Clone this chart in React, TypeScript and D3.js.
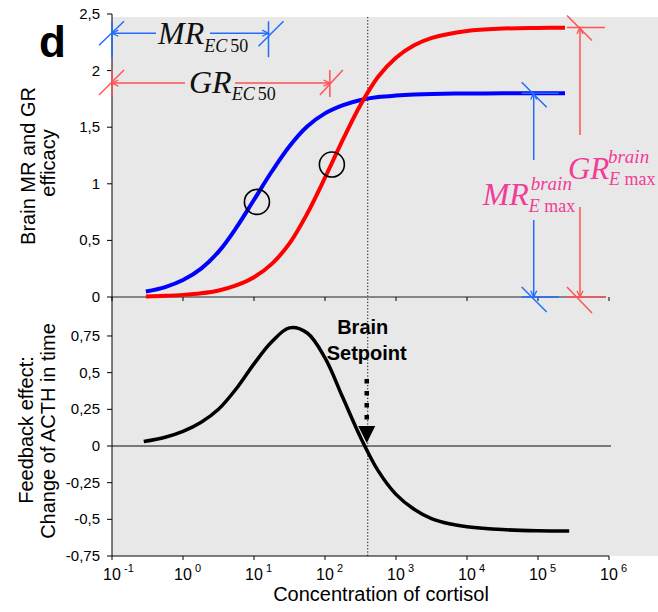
import React from 'react';
import * as d3 from 'd3';

// ---------- data ----------
const concentrations = [0.3, 0.56, 1, 1.8, 3.2, 5.6, 10, 18, 32, 56, 100, 180, 320, 560, 1000, 1800, 3200, 10000, 32000, 100000, 240000];
const mrEfficacy = [0.048, 0.088, 0.15, 0.251, 0.403, 0.61, 0.859, 1.113, 1.336, 1.506, 1.622, 1.695, 1.74, 1.766, 1.78, 1.789, 1.794, 1.798, 1.799, 1.8, 1.8];
const grEfficacy = [0.0054, 0.0106, 0.0188, 0.0331, 0.058, 0.102, 0.175, 0.295, 0.478, 0.735, 1.054, 1.394, 1.702, 1.945, 2.114, 2.223, 2.289, 2.35, 2.371, 2.377, 2.379];

const feedbackConc = [0.28, 0.56, 1, 1.78, 3.16, 5.62, 10, 17.8, 31.6, 56.2, 100, 178, 316, 562, 1000, 1780, 3160, 5620, 10000, 31600, 100000, 275000];
const feedbackEffect = [0.03, 0.06, 0.1, 0.16, 0.25, 0.39, 0.56, 0.71, 0.805, 0.77, 0.6, 0.33, 0.06, -0.17, -0.33, -0.43, -0.495, -0.53, -0.55, -0.57, -0.578, -0.58];

const xTickExponents = [-1, 0, 1, 2, 3, 4, 5, 6];
const topYTicks = [0, 0.5, 1, 1.5, 2, 2.5];
const bottomYTicks = [-0.75, -0.5, -0.25, 0, 0.25, 0.5, 0.75];

// annotation values (data units)
const mrEc50 = 16;
const grEc50 = 117;
const mrEc50Circle = { conc: 11, value: 0.84 };
const grEc50Circle = { conc: 125, value: 1.17 };
const mrEmax = 1.8;
const grEmax = 2.38;
const mrEmaxConc = 87000;
const grEmaxConc = 390000;
const brainSetpoint = 400;

const W = 658;
const H = 612;
const SANS = 'Liberation Sans, Arial, Helvetica, sans-serif';
const SERIF = 'Liberation Serif, Times New Roman, serif';
const BLUE_A = '#1f6dff';
const RED_A = '#ff5252';
const PINK = '#f23c98';

const fmt = (v: number) => String(v).replace('.', ',');

function Arrow({ x, y, dx, dy, color }: { x: number; y: number; dx: number; dy: number; color: string }) {
  const len = 7;
  const a = Math.atan2(dy, dx);
  const p1 = [x - len * Math.cos(a - 0.45), y - len * Math.sin(a - 0.45)];
  const p2 = [x - len * Math.cos(a + 0.45), y - len * Math.sin(a + 0.45)];
  return (
    <path d={`M${p1[0]},${p1[1]}L${x},${y}L${p2[0]},${p2[1]}`} fill="none" stroke={color} strokeWidth={1.3} />
  );
}

export default function App() {
  const x = d3.scaleLog().domain([0.1, 1e6]).range([112, 609]);
  const yTop = d3.scaleLinear().domain([0, 2.5]).range([297, 14]);
  const yBot = d3.scaleLinear().domain([-0.75, 1]).range([556, 299.3]);

  const lineTop = d3
    .line<[number, number]>()
    .x((d) => x(d[0]))
    .y((d) => yTop(d[1]))
    .curve(d3.curveCatmullRom.alpha(0.5));
  const lineBot = d3
    .line<[number, number]>()
    .x((d) => x(d[0]))
    .y((d) => yBot(d[1]))
    .curve(d3.curveCatmullRom.alpha(0.5));

  const mrPath = lineTop(concentrations.map((c, i) => [c, mrEfficacy[i]]));
  const grPath = lineTop(concentrations.map((c, i) => [c, grEfficacy[i]]));
  const fbPath = lineBot(feedbackConc.map((c, i) => [c, feedbackEffect[i]]));

  const axisX = x(0.1);
  const xEnd = x(1e6);
  const sp = x(brainSetpoint);

  const mrBY = yTop(2.33);
  const grBY = yTop(1.89);
  const mrBX = x(mrEc50);
  const grBX = x(grEc50);

  const mrVX = x(mrEmaxConc);
  const grVX = x(grEmaxConc);
  const mrTopY = yTop(mrEmax);
  const grTopY = yTop(grEmax);
  const baseY = yTop(0);

  return (
    <svg width={W} height={H} style={{ position: 'absolute', left: 0, top: 0, background: '#fff' }}>
      <rect x={axisX} y={17} width={W - axisX} height={556 - 17} fill="#e8e8e8" />

      <line x1={sp} x2={sp} y1={17} y2={556} stroke="#000" strokeWidth={1} strokeDasharray="1.2,2" />

      <line x1={axisX} x2={xEnd - 3} y1={baseY} y2={baseY} stroke="#666" strokeWidth={1.5} />
      {xTickExponents.map((e) => (
        <line key={'tt' + e} x1={x(10 ** e)} x2={x(10 ** e)} y1={baseY} y2={baseY + 4} stroke="#000" strokeWidth={1} />
      ))}

      <line x1={axisX} x2={611} y1={yBot(0)} y2={yBot(0)} stroke="#555" strokeWidth={1.3} />

      <line x1={axisX} x2={axisX} y1={yTop(2.5)} y2={556} stroke="#000" strokeWidth={1} />
      {topYTicks.map((t) => (
        <g key={'ty' + t}>
          <line x1={axisX - 5} x2={axisX} y1={yTop(t)} y2={yTop(t)} stroke="#000" />
          <text x={axisX - 12} y={yTop(t) + 5} textAnchor="end" fontFamily={SANS} fontSize={15} fill="#000">
            {fmt(t)}
          </text>
        </g>
      ))}
      {bottomYTicks.map((t) => (
        <g key={'by' + t}>
          <line x1={axisX - 5} x2={axisX} y1={yBot(t)} y2={yBot(t)} stroke="#000" />
          <text x={axisX - 12} y={yBot(t) + 5} textAnchor="end" fontFamily={SANS} fontSize={15} fill="#000">
            {fmt(t)}
          </text>
        </g>
      ))}

      <line x1={axisX} x2={xEnd} y1={556} y2={556} stroke="#000" strokeWidth={1} />
      {xTickExponents.map((e) => (
        <g key={'bx' + e}>
          <line x1={x(10 ** e)} x2={x(10 ** e)} y1={556} y2={560} stroke="#000" />
          <text x={x(10 ** e)} y={580} textAnchor="middle" fontFamily={SANS} fontSize={16} fill="#000">
            10
          </text>
          <text x={x(10 ** e) + 12} y={572} fontFamily={SANS} fontSize={11} fill="#000">
            {e}
          </text>
        </g>
      ))}
      <text x={381} y={601} textAnchor="middle" fontFamily={SANS} fontSize={20} fill="#000">
        Concentration of cortisol
      </text>

      <text transform="translate(35,166) rotate(-90)" textAnchor="middle" fontFamily={SANS} fontSize={20} fill="#000">
        Brain MR and GR
      </text>
      <text transform="translate(55,163) rotate(-90)" textAnchor="middle" fontFamily={SANS} fontSize={20} fill="#000">
        efficacy
      </text>
      <text transform="translate(33,430) rotate(-90)" textAnchor="middle" fontFamily={SANS} fontSize={20} fill="#000">
        Feedback effect:
      </text>
      <text transform="translate(55,431) rotate(-90)" textAnchor="middle" fontFamily={SANS} fontSize={20} fill="#000">
        Change of ACTH in time
      </text>

      <text x={39} y={57} fontFamily={SANS} fontWeight="bold" fontSize={44} fill="#000">
        d
      </text>

      <path d={mrPath || ''} fill="none" stroke="#0000ff" strokeWidth={4} />
      <path d={grPath || ''} fill="none" stroke="#ff0000" strokeWidth={4} />
      <path d={fbPath || ''} fill="none" stroke="#000" strokeWidth={3.5} />

      <circle cx={x(mrEc50Circle.conc)} cy={yTop(mrEc50Circle.value)} r={12.5} fill="none" stroke="#000" strokeWidth={1.6} />
      <circle cx={x(grEc50Circle.conc)} cy={yTop(grEc50Circle.value)} r={12.5} fill="none" stroke="#000" strokeWidth={1.6} />

      <g stroke={BLUE_A} strokeWidth={1.5} fill="none">
        <line x1={axisX} x2={156} y1={mrBY} y2={mrBY} />
        <line x1={210} x2={mrBX} y1={mrBY} y2={mrBY} />
        <line x1={axisX} x2={axisX} y1={mrBY - 12} y2={mrBY + 24} />
        <line x1={axisX - 13} x2={axisX + 12} y1={mrBY + 12} y2={mrBY - 12} />
        <line x1={mrBX} x2={mrBX} y1={mrBY - 12} y2={mrBY + 24} />
        <line x1={mrBX - 10} x2={mrBX + 15} y1={mrBY + 13} y2={mrBY - 12} />
      </g>
      <Arrow x={axisX} y={mrBY} dx={-1} dy={0} color={BLUE_A} />
      <Arrow x={mrBX} y={mrBY} dx={1} dy={0} color={BLUE_A} />
      <text x={158} y={44} fontFamily={SERIF} fontStyle="italic" fontSize={32} fill="#111">
        MR
        <tspan fontSize={18} dy={8}>EC</tspan>
        <tspan fontSize={18} fontStyle="normal" dx={3}>50</tspan>
      </text>

      <g stroke={RED_A} strokeWidth={1.5} fill="none">
        <line x1={axisX} x2={185} y1={grBY} y2={grBY} />
        <line x1={235} x2={grBX} y1={grBY} y2={grBY} />
        <line x1={axisX} x2={axisX} y1={grBY - 13} y2={grBY + 14} />
        <line x1={axisX - 13} x2={axisX + 12} y1={grBY + 12} y2={grBY - 13} />
        <line x1={grBX} x2={grBX} y1={grBY - 13} y2={grBY + 14} />
        <line x1={grBX - 10} x2={grBX + 13} y1={grBY + 12} y2={grBY - 13} />
      </g>
      <Arrow x={axisX} y={grBY} dx={-1} dy={0} color={RED_A} />
      <Arrow x={grBX} y={grBY} dx={1} dy={0} color={RED_A} />
      <text x={189} y={93} fontFamily={SERIF} fontStyle="italic" fontSize={32} fill="#111">
        GR
        <tspan fontSize={18} dy={7}>EC</tspan>
        <tspan fontSize={18} fontStyle="normal" dx={3}>50</tspan>
      </text>

      <g stroke={BLUE_A} strokeWidth={1.5} fill="none">
        <line x1={mrVX} x2={mrVX} y1={mrTopY} y2={160} />
        <line x1={mrVX} x2={mrVX} y1={220} y2={baseY} />
        <line x1={mrVX - 12} x2={mrVX + 25} y1={mrTopY} y2={mrTopY} />
        <line x1={mrVX - 12} x2={mrVX + 13} y1={mrTopY - 11} y2={mrTopY + 14} />
        <line x1={mrVX - 12} x2={mrVX + 25} y1={baseY} y2={baseY} />
        <line x1={mrVX - 12} x2={mrVX + 13} y1={baseY - 10} y2={baseY + 15} />
      </g>
      <Arrow x={mrVX} y={mrTopY} dx={0} dy={-1} color={BLUE_A} />
      <Arrow x={mrVX} y={baseY} dx={0} dy={1} color={BLUE_A} />

      <g stroke={RED_A} strokeWidth={1.5} fill="none">
        <line x1={grVX} x2={grVX} y1={grTopY} y2={135} />
        <line x1={grVX} x2={grVX} y1={207} y2={baseY} />
        <line x1={grVX - 13} x2={grVX + 25} y1={grTopY} y2={grTopY} />
        <line x1={grVX - 13} x2={grVX + 12} y1={grTopY - 12} y2={grTopY + 13} />
        <line x1={grVX - 13} x2={grVX + 25} y1={baseY} y2={baseY} />
        <line x1={grVX - 13} x2={grVX + 12} y1={baseY - 10} y2={baseY + 16} />
      </g>
      <Arrow x={grVX} y={grTopY} dx={0} dy={-1} color={RED_A} />
      <Arrow x={grVX} y={baseY} dx={0} dy={1} color={RED_A} />

      <text x={mrVX - 51} y={205} fontFamily={SERIF} fontStyle="italic" fontSize={32} fill={PINK}>
        MR
      </text>
      <text x={mrVX - 3} y={190} fontFamily={SERIF} fontStyle="italic" fontSize={19} fill={PINK}>
        brain
      </text>
      <text x={mrVX - 5} y={212} fontFamily={SERIF} fontSize={18} fill={PINK}>
        <tspan fontStyle="italic">E</tspan> max
      </text>
      <text x={grVX - 12} y={179} fontFamily={SERIF} fontStyle="italic" fontSize={31} fill={PINK}>
        GR
      </text>
      <text x={grVX + 28} y={163} fontFamily={SERIF} fontStyle="italic" fontSize={19} fill={PINK}>
        brain
      </text>
      <text x={grVX + 29} y={185} fontFamily={SERIF} fontSize={18} fill={PINK}>
        <tspan fontStyle="italic">E</tspan> max
      </text>

      <text x={sp - 5} y={334} textAnchor="middle" fontFamily={SANS} fontWeight="bold" fontSize={20} fill="#000">
        Brain
      </text>
      <text x={sp - 1} y={360} textAnchor="middle" fontFamily={SANS} fontWeight="bold" fontSize={20} fill="#000">
        Setpoint
      </text>
      <line x1={sp - 1} x2={sp - 1} y1={379} y2={424} stroke="#000" strokeWidth={4.5} strokeDasharray="4.5,7.5" />
      <path d={`M${sp - 9.5},${426}L${sp + 7.5},${426}L${sp - 1},${443}Z`} fill="#000" />
    </svg>
  );
}
